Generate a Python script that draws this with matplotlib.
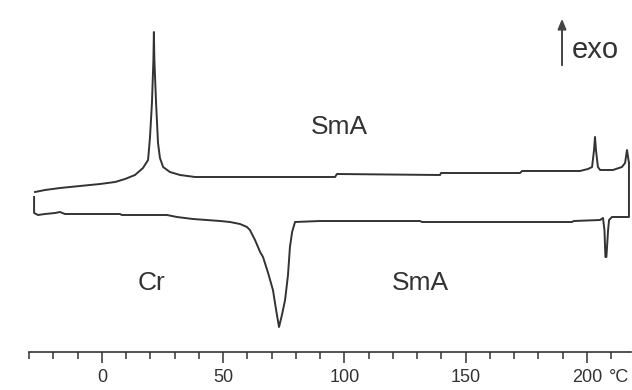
import matplotlib
matplotlib.use("Agg")
import matplotlib.pyplot as plt
from matplotlib.ticker import FixedLocator

plt.rcParams['font.family'] = ['Liberation Sans', 'DejaVu Sans']

# Cooling run (upper curve): temperature (°C), heat flow (arb. units)
T_cool = [-27.6, -23.5, -17.3, -9.1, -0.8, 5.4, 9.5, 13.6, 16.9, 19.0, 19.8, 20.6, 21.2,
          21.4, 21.6, 22.3, 23.1, 23.9, 25.2, 28.0, 32.2, 38.4, 43.7, 96.1, 96.9, 139.4,
          139.8, 172.4, 173.2, 197.1, 200.4, 202.1, 202.9, 203.3, 203.7, 204.5, 205.4,
          210.7, 214.4, 215.7, 216.5, 217.3]
hf_cool = [15.8, 16.0, 16.2, 16.4, 16.6, 16.8, 17.1, 17.5, 18.2, 19.0, 21.3, 24.7, 29.0,
           31.8, 29.0, 24.7, 20.7, 19.2, 18.3, 17.8, 17.5, 17.3, 17.3, 17.3, 17.6, 17.5,
           17.7, 17.7, 17.9, 17.9, 18.1, 18.3, 20.0, 21.3, 20.0, 18.3, 18.0,
           18.0, 18.3, 18.7, 20.0, 18.7]

# Heating run (lower curve)
T_heat = [-28.0, -28.0, -26.4, -23.5, -19.4, -17.3, -15.3, 7.4, 8.2, 26.8, 30.9, 37.5,
          48.7, 52.8, 56.9, 59.8, 61.0, 63.1, 65.2, 66.4, 68.5, 70.5, 71.8, 73.0, 74.2,
          75.5, 76.7, 77.5, 78.4, 79.6, 89.9, 131.1, 132.0, 193.8, 194.6, 205.4, 206.6,
          207.2, 207.6, 208.0, 208.7, 209.1, 210.3, 217.3, 217.3]
hf_heat = [15.3, 13.7, 13.5, 13.6, 13.7, 13.8, 13.6, 13.6, 13.5, 13.5, 13.3, 13.1,
           12.9, 12.8, 12.6, 12.3, 12.0, 11.0, 9.8, 9.3, 7.7, 6.0, 4.0, 2.3, 3.5,
           5.0, 7.5, 10.3, 11.8, 12.8, 12.9, 12.9, 12.8, 12.8, 12.9, 13.0, 13.2,
           12.0, 9.3, 9.3, 12.0, 13.0, 13.3, 13.3, 18.7]

major_ticks = [0, 50, 100, 150, 200]
tick_labels = ['0', '50', '100', '150', '200']

fig = plt.figure(figsize=(6.32, 3.90), dpi=100)
ax = fig.add_axes([0, 0, 1, 1])
line_color = '#333333'
ax.plot(T_cool, hf_cool, color=line_color, lw=1.4, solid_joinstyle='round')
ax.plot(T_heat, hf_heat, color=line_color, lw=1.4, solid_joinstyle='round')

ax.set_xlim(-42.06, 218.56)
ax.set_ylim(-4.0, 35.0)

for s in ['top', 'left', 'right']:
    ax.spines[s].set_visible(False)
ax.spines['bottom'].set_position(('data', -0.2))
ax.spines['bottom'].set_bounds(-30, 218)
ax.spines['bottom'].set_color('#333333')
ax.spines['bottom'].set_linewidth(1.2)
ax.set_yticks([])
ax.xaxis.set_major_locator(FixedLocator(major_ticks))
ax.set_xticklabels(tick_labels)
ax.xaxis.set_minor_locator(FixedLocator([t for t in range(-30, 220, 10) if t % 50 != 0]))
ax.tick_params(axis='x', which='major', direction='out', length=8, width=1.1,
               color='#333333', labelsize=13, pad=4, labelcolor='#333333')
ax.tick_params(axis='x', which='minor', direction='out', length=5, width=1.1, color='#333333')
ax.text(209.0, -4.0 + (390 - 377) / 10, '°C', fontsize=13, color='#333333',
        ha='left', va='center')

ax.text(98.1, 22.3, 'SmA', fontsize=19, color='#333333', ha='center', va='center')
ax.text(20.6, 6.7, 'Cr', fontsize=19, color='#333333', ha='center', va='center')
ax.text(131.1, 6.7, 'SmA', fontsize=19, color='#333333', ha='center', va='center')
ax.text(193.6, 30.0, 'exo', fontsize=21, color='#333333', ha='left', va='center')
ax.annotate('', xy=(189.7, 33.4), xytext=(189.7, 28.2),
            arrowprops=dict(arrowstyle='-|>,head_width=0.25,head_length=0.6',
                            color='#444444', lw=1.4))

fig.savefig('out.png', dpi=100, facecolor='white')
